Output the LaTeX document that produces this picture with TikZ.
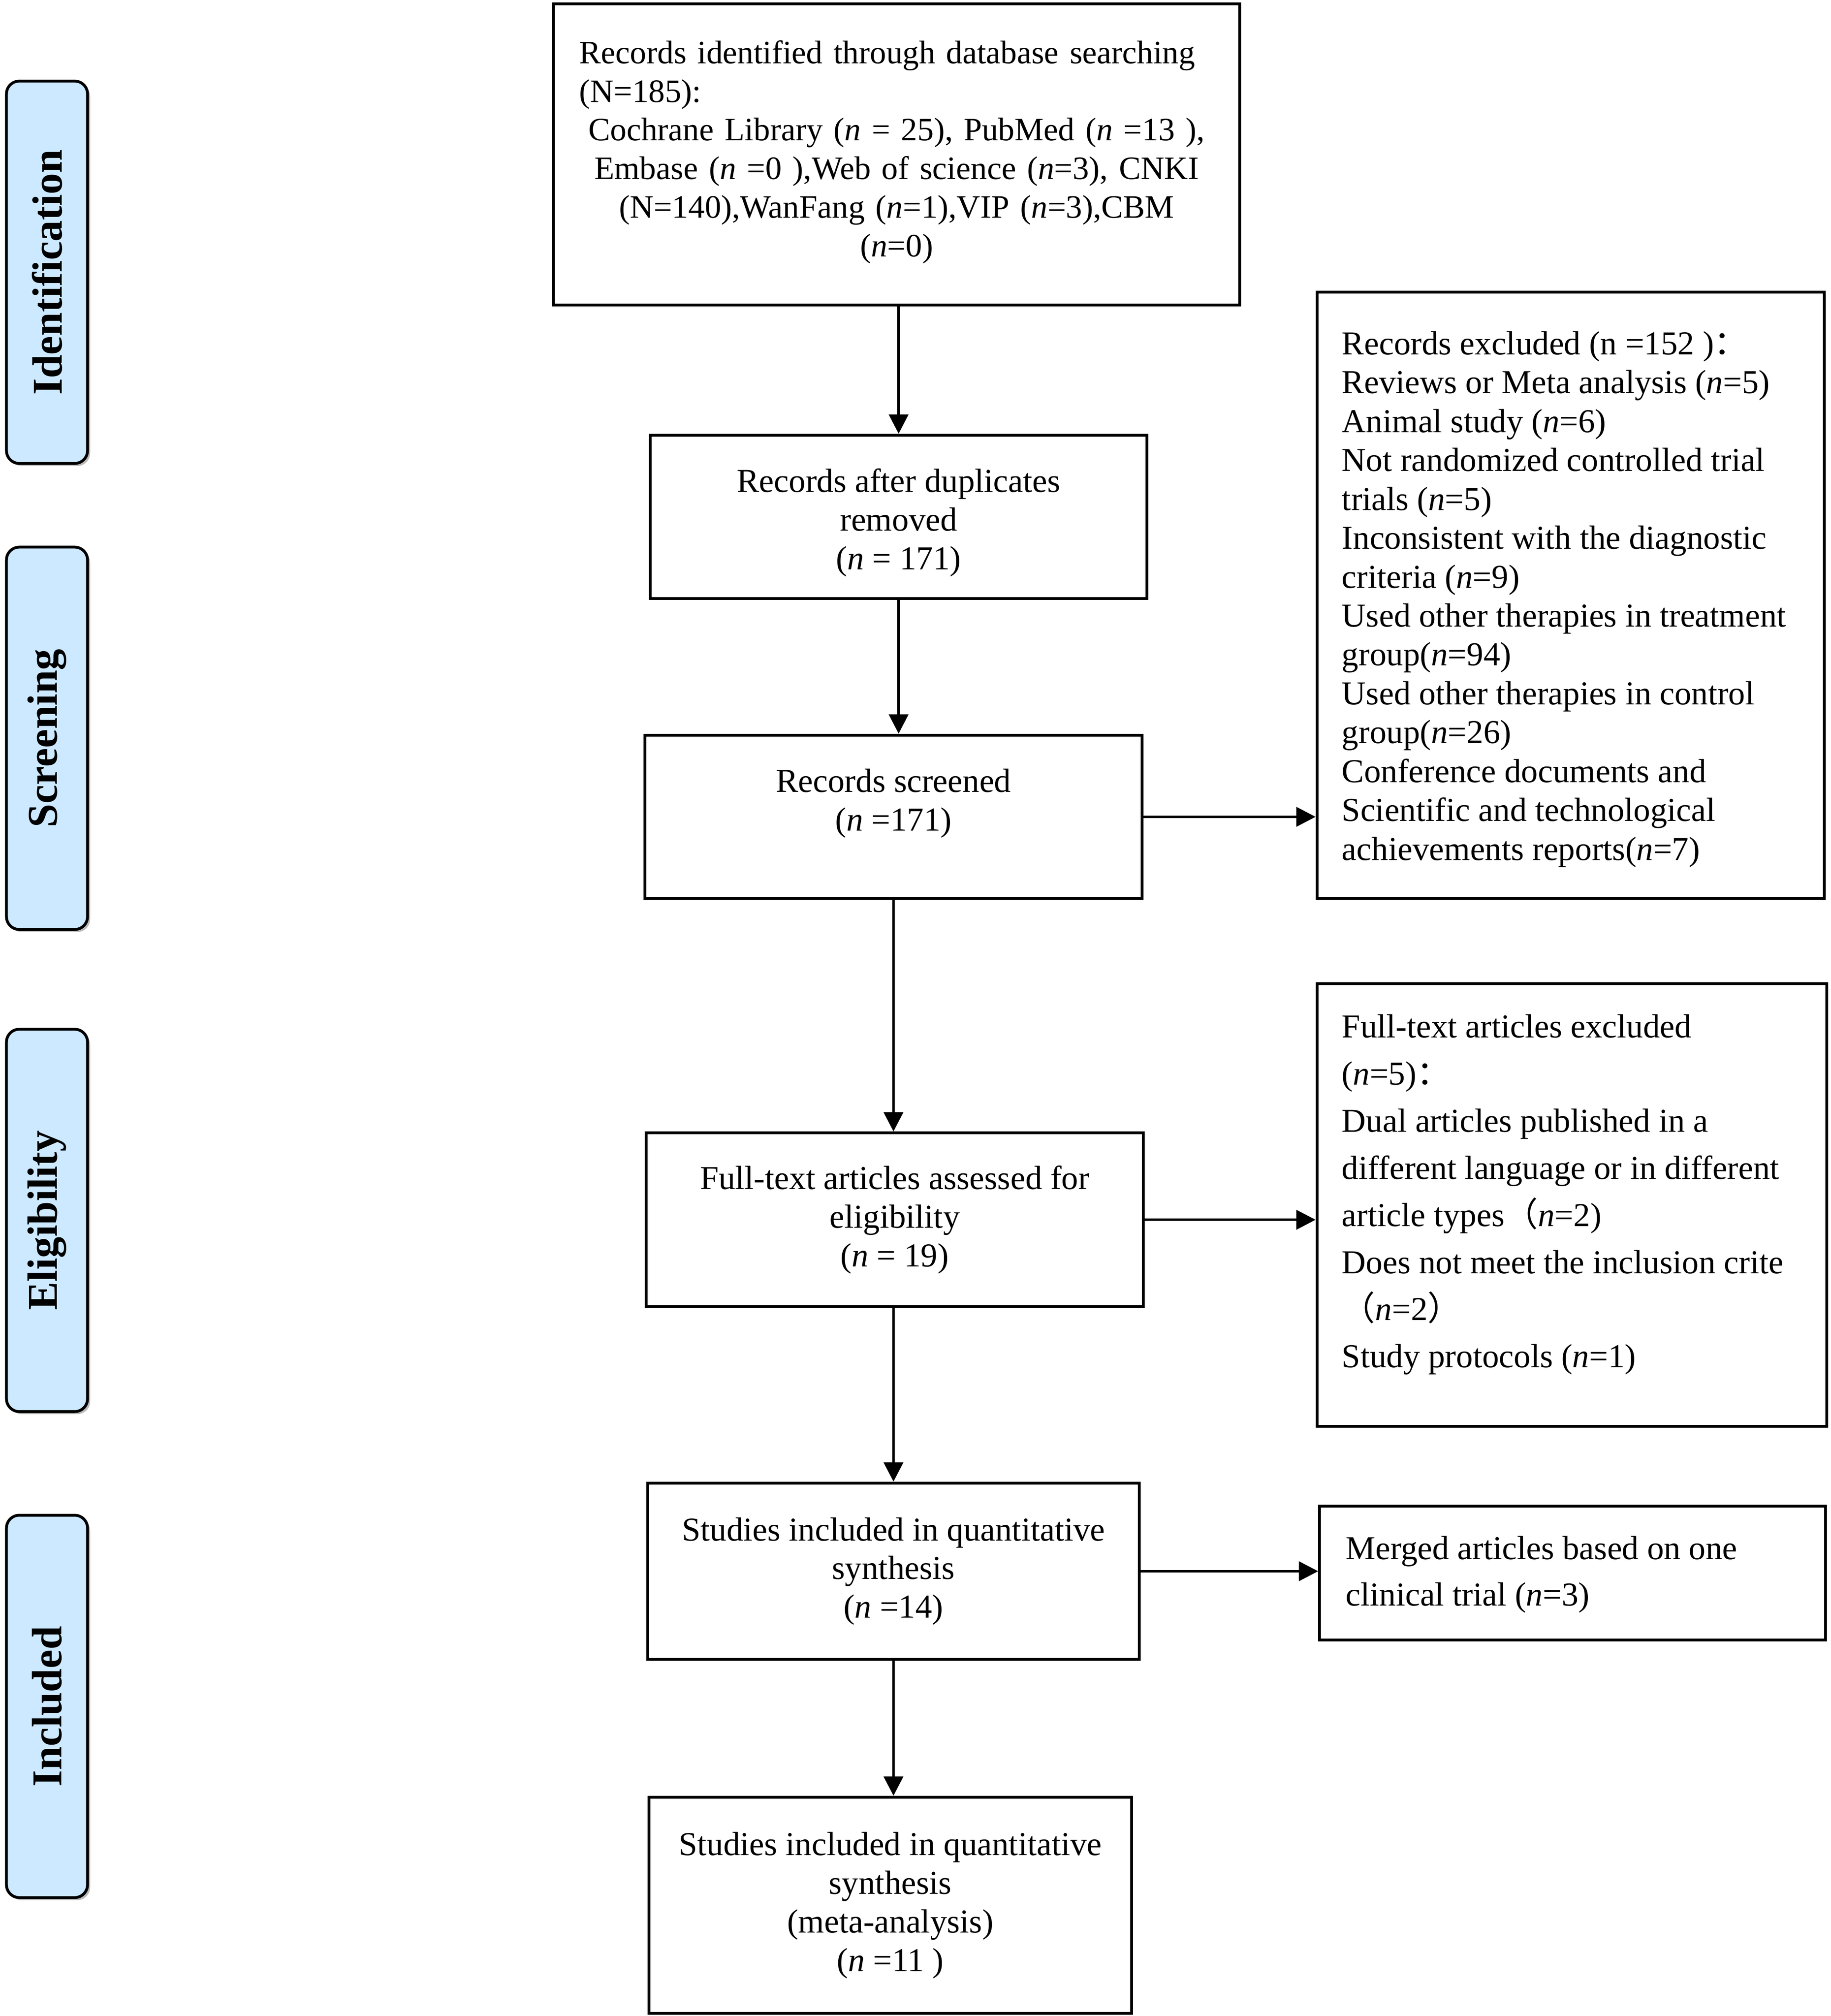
\documentclass[tikz,border=0pt]{standalone}
\usepackage{fontspec}
\usepackage{graphicx}
\setmainfont{Liberation Serif}
\newfontfamily\cjkfont{Noto Sans CJK SC}
\usetikzlibrary{arrows.meta,shadows}
\definecolor{stagefill}{RGB}{204,233,255}
\newcommand\nn{\textit{n}}
\newcommand\lineL[1]{\par\hbox to\linewidth{#1\hss}}
\newcommand\lineC[1]{\par\hbox to\linewidth{\hss#1\hss}}
\newcommand\fwl{{\cjkfont （}}
\newcommand\fwr{{\cjkfont ）}}
\newcommand\fwc{{\cjkfont ：}}
\begin{document}
\begin{tikzpicture}[x=0.5pt,y=-0.5pt,
  box/.style={draw, line width=1.1pt, inner sep=0pt, align=center,
    font=\fontsize{13}{15}\selectfont},
  txt/.style={inner sep=0pt, align=left},
  stage/.style={draw, line width=1.1pt, rounded corners=5pt, fill=stagefill,
    drop shadow={shadow xshift=1pt, shadow yshift=-1pt, fill=black!45, opacity=0.6},
    minimum width=31.5pt, minimum height=148.5pt, inner sep=0pt,
    font=\fontsize{16.5}{18}\selectfont\bfseries},
  arr/.style={-{Triangle[length=7.5pt,width=7.5pt]}, line width=1pt}]
\useasboundingbox (0,0) rectangle (1422,1566);

% stage labels
\node[stage] (s1) at (36.5,211.5) {\rotatebox{90}{Identification}};
\node[stage] (s2) at (36.5,573.5) {\rotatebox{90}{Screening}};
\node[stage] (s3) at (36.5,948) {\rotatebox{90}{Eligibility}};
\node[stage] (s4) at (36.5,1325.5) {\rotatebox{90}{Included}};

% main column
\node[box, minimum width=266.5pt, minimum height=117pt] (b1) at (696.5,120) {};
\node[txt, text width=246.5pt, font=\fontsize{12.7}{15}\selectfont] (t1) at (696.5,112)
 {\lineL{Records identified through database searching}%
  \lineL{(N=185):}%
  \lineC{Cochrane Library (\nn{} = 25), PubMed (\nn{} =13 ),}%
  \lineC{Embase (\nn{} =0 ),Web of science (\nn=3), CNKI}%
  \lineC{(N=140),WanFang (\nn=1),VIP (\nn=3),CBM}%
  \lineC{(\nn=0)}};

\node[box, minimum width=193pt, minimum height=63.5pt] (b2) at (698,401.5) {};
\node[txt, align=center, font=\fontsize{13}{15}\selectfont] (t2) at (698,406)
 {Records after duplicates\\ removed\\ (\nn{} = 171)};

\node[box, minimum width=193pt, minimum height=63.5pt] (b3) at (694,634.5) {};
\node[txt, align=center, font=\fontsize{13}{15}\selectfont] (t3) at (694,624)
 {Records screened\\ (\nn{} =171)};

\node[box, minimum width=193pt, minimum height=67.5pt] (b4) at (695,947.5)
 {Full-text articles assessed for\\ eligibility\\ (\nn{} = 19)};

\node[box, minimum width=191pt, minimum height=68.5pt] (b5) at (694,1220.5)
 {Studies included in quantitative\\ synthesis\\ (\nn{} =14)};

\node[box, minimum width=187.5pt, minimum height=84pt] (b6) at (691.5,1480)
 {Studies included in quantitative\\ synthesis\\ (meta-analysis)\\ (\nn{} =11 )};

% exclusion boxes
\node[box, minimum width=197pt, minimum height=235.5pt] (e1) at (1220,462.5) {};
\node[txt, anchor=west, font=\fontsize{13}{15.1}\selectfont] (te1) at ([xshift=10pt,yshift=-1.5pt]e1.west)
 {Records excluded (n =152 )\fwc\\
  Reviews or Meta analysis (\nn=5)\\
  Animal study (\nn=6)\\
  Not randomized controlled trial\\
  trials (\nn=5)\\
  Inconsistent with the diagnostic\\
  criteria (\nn=9)\\
  Used other therapies in treatment\\
  group(\nn=94)\\
  Used other therapies in control\\
  group(\nn=26)\\
  Conference documents and\\
  Scientific and technological\\
  achievements reports(\nn=7)};

\node[box, minimum width=198pt, minimum height=172pt] (e2) at (1221,936) {};
\node[txt, anchor=west, font=\fontsize{13}{18.3}\selectfont] (te2) at ([xshift=10pt,yshift=4pt]e2.west)
 {Full-text articles excluded\\
  (\nn=5)\fwc\\
  Dual articles published in a\\
  different language or in different\\
  article types\fwl\nn=2)\\
  Does not meet the inclusion crite\\
  \fwl\nn=2\fwr\\
  Study protocols (\nn=1)};

\node[box, minimum width=196.5pt, minimum height=52pt] (e3) at (1221.5,1222) {};
\node[txt, anchor=west, font=\fontsize{13}{18}\selectfont] (te3) at ([xshift=10.5pt,yshift=-0.5pt]e3.west)
 {Merged articles based on one\\
  clinical trial (\nn=3)};

% connectors
\draw[arr] (b1.south -| b2.north) -- (b2.north);
\draw[arr] (b2.south) -- (b2.south |- b3.north);
\draw[arr] (b3.south) -- (b3.south |- b4.north);
\draw[arr] (b4.south -| b5.north) -- (b5.north);
\draw[arr] (b5.south) -- (b5.south |- b6.north);
\draw[arr] (b3.east) -- (b3.east -| e1.west);
\draw[arr] (b4.east) -- (b4.east -| e2.west);
\draw[arr] (b5.east) -- (b5.east -| e3.west);
\end{tikzpicture}
\end{document}
